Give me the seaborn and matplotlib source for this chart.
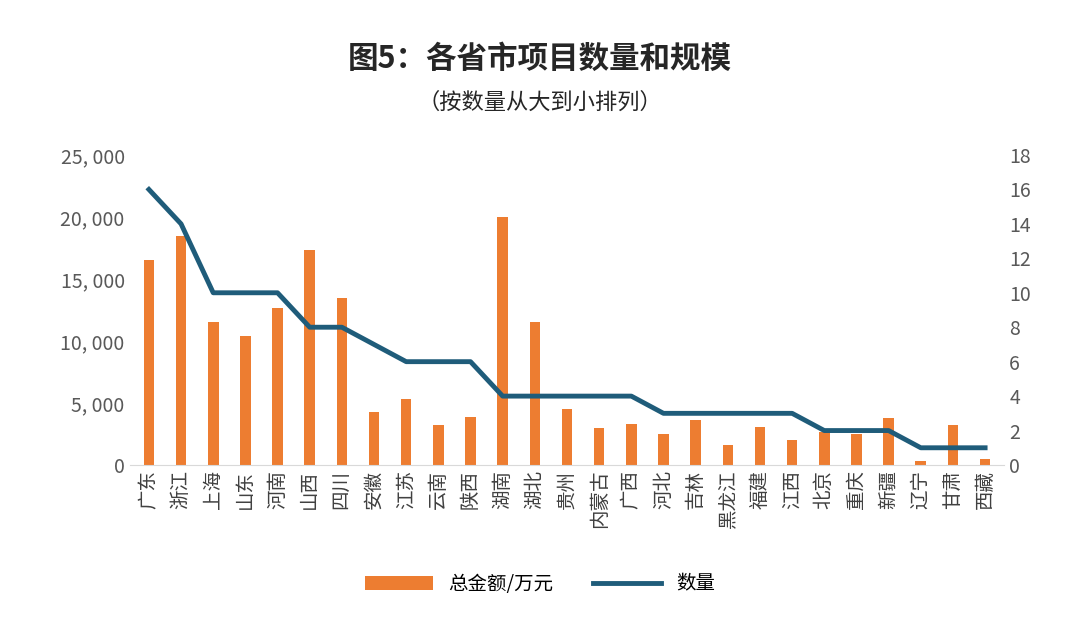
import matplotlib
matplotlib.use("Agg")
import matplotlib.pyplot as plt
import seaborn as sns
import pandas as pd
from matplotlib.ticker import FuncFormatter

plt.rcParams["font.family"] = "Noto Sans CJK SC"

provinces = ["广东","浙江","上海","山东","河南","山西","四川","安徽","江苏","云南","陕西","湖南","湖北","贵州",
             "内蒙古","广西","河北","吉林","黑龙江","福建","江西","北京","重庆","新疆","辽宁","甘肃","西藏"]
amounts = [16500,18500,11500,10400,12700,17300,13500,4300,5300,3200,3900,20000,11500,4500,
           3000,3300,2500,3600,1600,3100,2000,2700,2500,3800,300,3200,500]
counts = [16,14,10,10,10,8,8,7,6,6,6,4,4,4,4,4,3,3,3,3,3,2,2,2,1,1,1]

df = pd.DataFrame({"省市": provinces, "总金额": amounts, "数量": counts})

fig = plt.figure(figsize=(10.8, 6.2), dpi=100)
ax = fig.add_axes([0.12, 0.25, 0.81, 0.5])
sns.barplot(data=df, x="省市", y="总金额", color="#ED7D31", saturation=1, width=0.33, ax=ax, label="总金额/万元")
ax2 = ax.twinx()
sns.lineplot(x=list(range(len(provinces))), y=counts, color="#1F5C7A", linewidth=3.5, ax=ax2, label="数量")

ax.set_ylim(0, 25000)
ax.set_yticks(range(0, 25001, 5000))
ax.yaxis.set_major_formatter(FuncFormatter(lambda v, p: f"{int(v):,}".replace(",", ", ")))
ax2.set_ylim(0, 18)
ax2.set_yticks(range(0, 19, 2))
ax.set_xlim(-0.6, len(provinces) - 0.4)
ax.set_xlabel(""); ax.set_ylabel(""); ax2.set_ylabel("")
ax.set_xticks(range(len(provinces)))
ax.set_xticklabels(provinces, rotation=90, fontsize=14, color="#404040")
for a in (ax, ax2):
    a.tick_params(axis="y", labelsize=14, colors="#595959", length=0)
    for s in a.spines.values():
        s.set_visible(False)
ax.tick_params(axis="x", length=0)
ax.spines["bottom"].set_visible(True)
ax.spines["bottom"].set_color("#D9D9D9")
ax2.get_legend().remove()
if ax.get_legend():
    ax.get_legend().remove()

h1, l1 = ax.get_legend_handles_labels()
h2, l2 = ax2.get_legend_handles_labels()
fig.legend(h1 + h2, l1 + l2, loc="center", bbox_to_anchor=(0.5, 0.058), ncol=2, frameon=False,
           fontsize=14, handlelength=3.5, columnspacing=2)

fig.text(0.5, 0.89, "图5：各省市项目数量和规模", ha="center", fontsize=22, fontweight="bold", color="#262626")
fig.text(0.5, 0.825, "（按数量从大到小排列）", ha="center", fontsize=16, color="#262626")

fig.savefig("out.png", dpi=100)
